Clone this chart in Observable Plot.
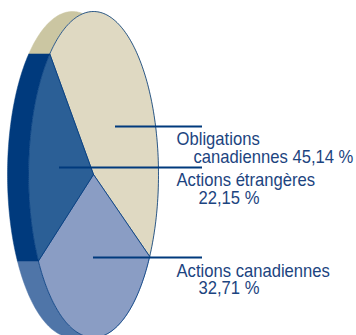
<!DOCTYPE html>
<html><head><meta charset="utf-8">
<script src="https://cdn.jsdelivr.net/npm/d3@7"></script>
<script src="https://cdn.jsdelivr.net/npm/@observablehq/plot@0.6"></script>
<style>html,body{margin:0;padding:0;background:#fff;overflow:hidden}svg{display:block}</style>
</head><body><script>
const names = ["Obligations canadiennes", "Actions canadiennes", "Actions étrangères"];
const values = [45.14, 32.71, 22.15];
const fronts = ["#dfd9c2", "#8a9dc4", "#2b5f96"];
const sides = ["#cbc6a2", "#4f75a8", "#003a7d"];

const cx = 93, cy = 174, rx = 65, ry = 163, depth = 21, ink = "#003a7d", textInk = "#1c4480";
const start = -42.3 * Math.PI / 180;
const arcs = d3.pie().sort(null).startAngle(start).endAngle(start + 2 * Math.PI)(values);
const pt = (a, dx = 0) => ({x: cx - dx + rx * Math.sin(a), y: cy - ry * Math.cos(a)});
const arcPts = (a0, a1, dx = 0) => d3.range(121).map(i => pt(a0 + (a1 - a0) * i / 120, dx));
const frontPoly = a => [{x: cx, y: cy}, ...arcPts(a.startAngle, a.endAngle), {x: cx, y: cy}];
const sidePoly = a => {
  const f = arcPts(a.startAngle, a.endAngle), b = arcPts(a.endAngle, a.startAngle, depth);
  return [...f, ...b, f[0]];
};
const fmt = v => v.toFixed(2).replace(".", ",") + " %";
const lines = [
  {x: 176, y: 138, t: "Obligations"},
  {x: 193, y: 156, t: "canadiennes " + fmt(values[0])},
  {x: 176, y: 179, t: names[2]},
  {x: 198, y: 197, t: fmt(values[2])},
  {x: 176, y: 270, t: names[1]},
  {x: 198, y: 287, t: fmt(values[1])}
];
const leaders = [
  {x1: 115, x2: 202, y: 126},
  {x1: 59, x2: 202, y: 167},
  {x1: 93, x2: 202, y: 257}
];
const plot = Plot.plot({
  width: 356, height: 335, margin: 0,
  x: {domain: [0, 356], range: [0, 356], axis: null},
  y: {domain: [0, 335], range: [0, 335], axis: null},
  style: {background: "#fff"},
  marks: [
    ...arcs.map((a, i) => Plot.line(sidePoly(a), {x: "x", y: "y", fill: sides[i], stroke: sides[i], strokeWidth: 0.5})),
    ...arcs.map((a, i) => Plot.line(frontPoly(a), {x: "x", y: "y", fill: fronts[i], stroke: ink, strokeWidth: 0.8})),
    Plot.ruleY(leaders, {y: "y", x1: "x1", x2: "x2", stroke: ink, strokeWidth: 1.8}),
    Plot.text(lines, {x: "x", y: "y", text: "t", textAnchor: "start", fill: textInk, fontSize: 19, fontFamily: "'Liberation Sans',sans-serif"})
  ]
});
document.body.appendChild(plot);
plot.querySelectorAll("text").forEach(t => {
  t.setAttribute("lengthAdjust", "spacingAndGlyphs");
  t.setAttribute("textLength", (t.getComputedTextLength() * 0.875).toFixed(1));
});
</script></body></html>
